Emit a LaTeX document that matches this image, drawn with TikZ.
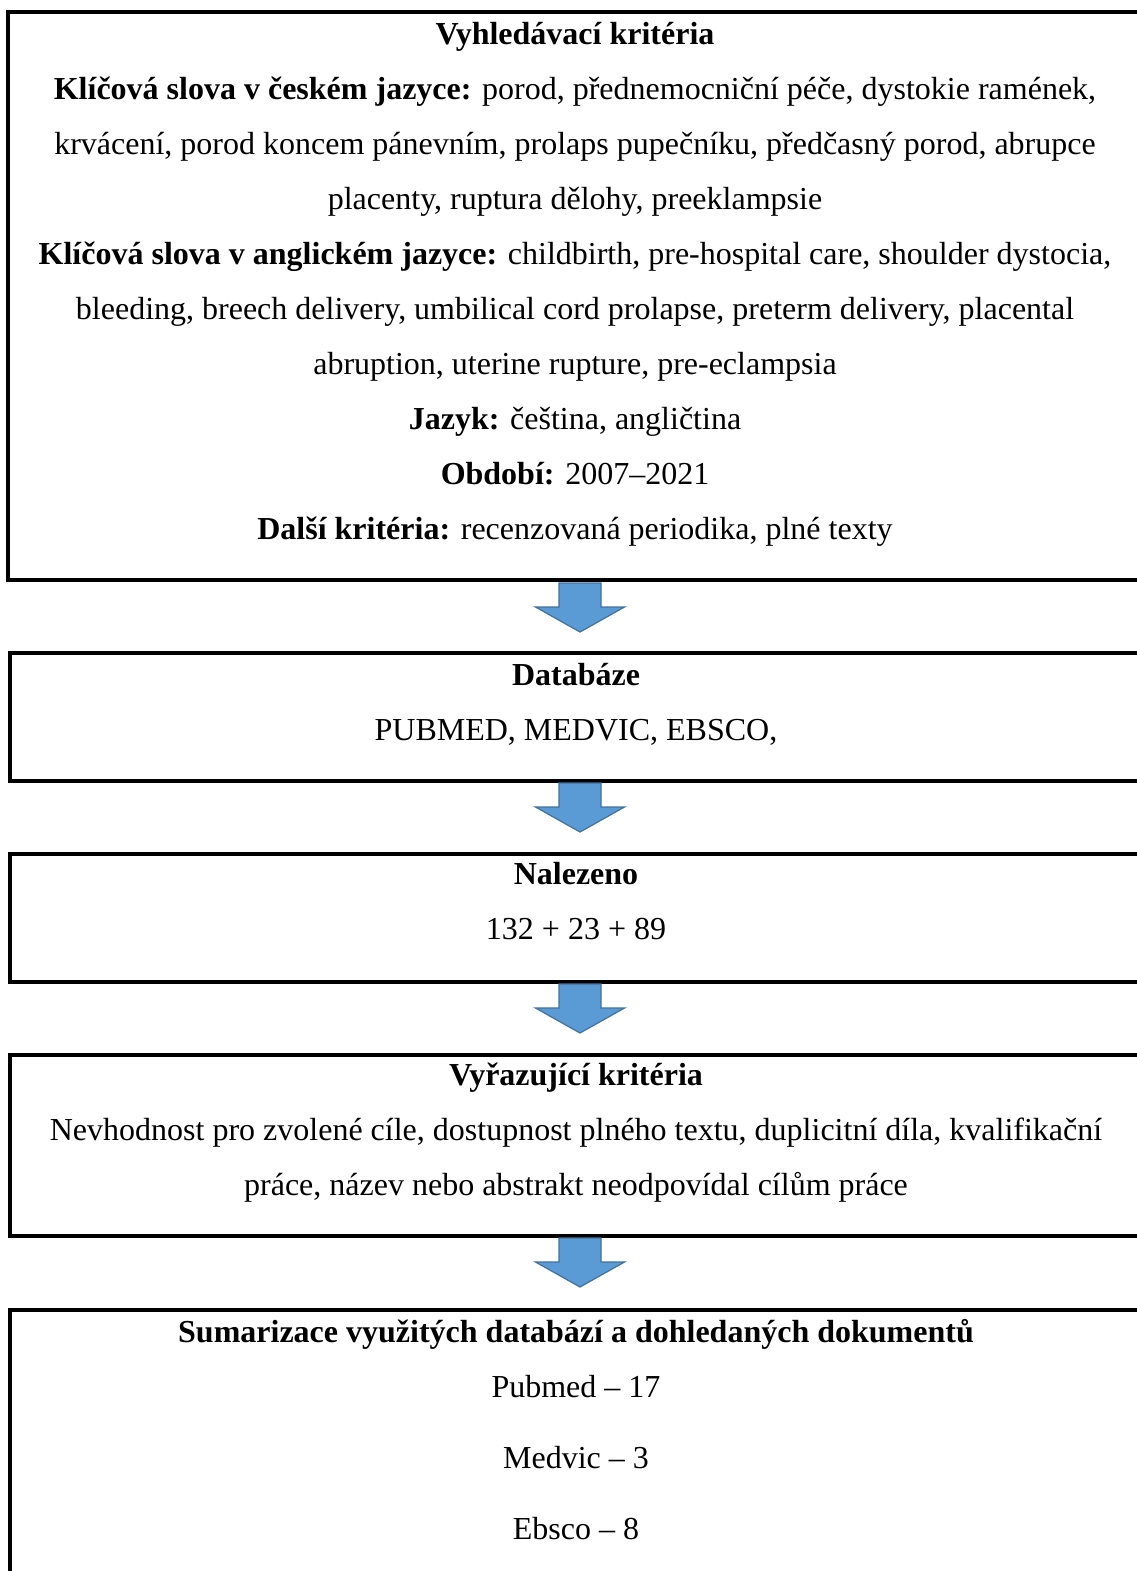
\documentclass[tikz,border=0pt]{standalone}
\usepackage{fontspec}
\setmainfont{Liberation Serif}
\definecolor{arrowfill}{HTML}{5B9BD5}
\definecolor{arrowline}{HTML}{41719C}
\tikzset{
  boxline/.style={draw=black, line width=2.4pt},
  txt/.style={anchor=mid, inner sep=0pt, yshift=-6pt, font=\fontsize{24pt}{28pt}\selectfont},
  blockarrow/.style={fill=arrowfill, draw=arrowline, line width=0.9pt, line join=miter},
}
\begin{document}
\begin{tikzpicture}[x=0.75pt,y=-0.75pt]
\useasboundingbox (0,0) rectangle (1137,1571);
\clip (0,0) rectangle (1137,1571);
\fill[white] (0,0) rectangle (1137,1571);

% boxes (run off the right edge)
\draw[boxline] (1160,12) -- (8,12) -- (8,580) -- (1160,580);
\draw[boxline] (1160,653) -- (10,653) -- (10,781) -- (1160,781);
\draw[boxline] (1160,854) -- (10,854) -- (10,982) -- (1160,982);
\draw[boxline] (1160,1055) -- (10,1055) -- (10,1236) -- (1160,1236);
\draw[boxline] (1160,1310) -- (10,1310) -- (10,1600);

% arrow tops
\coordinate (a1) at (580,583);
\coordinate (a2) at (580,783);
\coordinate (a3) at (580,984);
\coordinate (a4) at (580,1238);
\foreach \a in {a1,a2,a3,a4}{
  \path[blockarrow] (\a) ++(-21,0) -- ++(42,0) -- ++(0,24) -- ++(23.5,0)
     -- ++(-44.5,25) -- ++(-44.5,-25) -- ++(23.5,0) -- cycle;
}

% box 1
\node[txt] (t11) at (575,33) {\textbf{Vyhledávací kritéria}};
\node[txt] (t12) at (575,88) {\textbf{Klíčová slova v českém jazyce:} porod, přednemocniční péče, dystokie ramének,};
\node[txt] (t13) at (575,143) {krvácení, porod koncem pánevním, prolaps pupečníku, předčasný porod, abrupce};
\node[txt] (t14) at (575,198) {placenty, ruptura dělohy, preeklampsie};
\node[txt] (t15) at (575,253) {\textbf{Klíčová slova v anglickém jazyce:} childbirth, pre-hospital care, shoulder dystocia,};
\node[txt] (t16) at (575,308) {bleeding, breech delivery, umbilical cord prolapse, preterm delivery, placental};
\node[txt] (t17) at (575,363) {abruption, uterine rupture, pre-eclampsia};
\node[txt] (t18) at (575,418) {\textbf{Jazyk:} čeština, angličtina};
\node[txt] (t19) at (575,473) {\textbf{Období:} 2007–2021};
\node[txt] (t110) at (575,528) {\textbf{Další kritéria:} recenzovaná periodika, plné texty};

% box 2
\node[txt] (t21) at (576,674) {\textbf{Databáze}};
\node[txt] (t22) at (576,729) {PUBMED, MEDVIC, EBSCO,};

% box 3
\node[txt] (t31) at (576,873) {\textbf{Nalezeno}};
\node[txt] (t32) at (576,928) {132 + 23 + 89};

% box 4
\node[txt] (t41) at (576,1074) {\textbf{Vyřazující kritéria}};
\node[txt] (t42) at (576,1129) {Nevhodnost pro zvolené cíle, dostupnost plného textu, duplicitní díla, kvalifikační};
\node[txt] (t43) at (576,1184) {práce, název nebo abstrakt neodpovídal cílům práce};

% box 5
\node[txt] (t51) at (576,1331) {\textbf{Sumarizace využitých databází a dohledaných dokumentů}};
\node[txt] (t52) at (576,1386) {Pubmed – 17};
\node[txt] (t53) at (576,1457) {Medvic – 3};
\node[txt] (t54) at (576,1528) {Ebsco – 8};
\end{tikzpicture}
\end{document}
